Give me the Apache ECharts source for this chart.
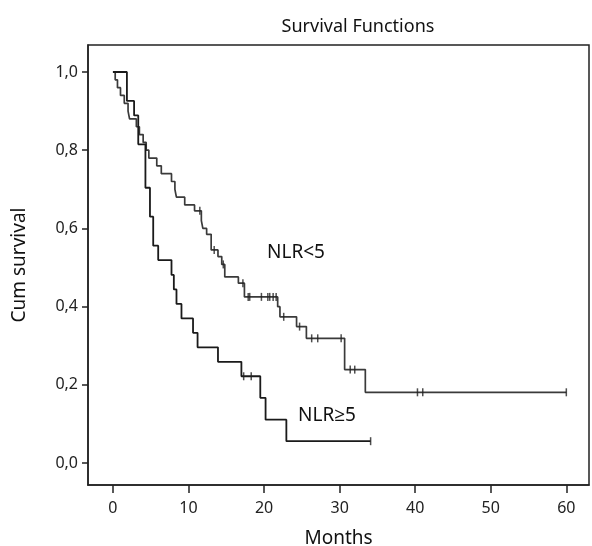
<!DOCTYPE html>
<html>
<head>
<meta charset="utf-8">
<script src="https://cdn.jsdelivr.net/npm/echarts@6/dist/echarts.min.js"></script>
<style>
html,body{margin:0;padding:0;background:#fff;}
#chart{width:592px;height:546px;}
</style>
</head>
<body>
<div id="chart"></div>
<script>
// NLR<5 : event steps [months, cumulative survival]
const nlrLowSteps = [
  [0,1.0],[0.3,0.98],[0.6,0.96],[1.0,0.94],[1.5,0.92],[2.0,0.90],[2.2,0.88],
  [3.1,0.86],[3.5,0.84],[4.0,0.82],[4.4,0.80],[4.75,0.78],[5.8,0.76],[6.4,0.74],
  [7.75,0.72],[8.2,0.70],[8.4,0.68],[9.5,0.66],[10.8,0.645],[11.7,0.62],[11.9,0.60],
  [12.4,0.585],[13.0,0.545],[13.9,0.528],[14.4,0.508],[14.8,0.476],[16.6,0.46],
  [17.4,0.425],[21.8,0.40],[22.1,0.374],[24.3,0.349],[25.6,0.319],[30.66,0.239],
  [33.4,0.181],[60,0.181]
];
// NLR<5 censored observations [months, survival]
const nlrLowCensored = [
  [11.5,0.645],[13.4,0.545],[14.6,0.508],[17.2,0.46],
  [17.9,0.425],[18.1,0.425],[19.65,0.425],[20.5,0.425],[20.75,0.425],[21.2,0.425],[21.6,0.425],
  [22.6,0.374],[24.7,0.349],[26.3,0.319],[27.1,0.319],[30.2,0.319],
  [31.4,0.239],[32.0,0.239],[40.3,0.181],[41.0,0.181],[60,0.181]
];
// NLR>=5 : event steps
const nlrHighSteps = [
  [0,1.0],[1.85,0.926],[2.8,0.889],[3.35,0.815],[4.3,0.704],[4.9,0.630],[5.33,0.556],
  [5.99,0.519],[7.75,0.481],[8.06,0.444],[8.41,0.407],[9.07,0.370],[10.6,0.333],
  [11.2,0.296],[13.9,0.259],[17.0,0.222],[19.5,0.167],[20.2,0.111],[22.95,0.056],[34.1,0.056]
];
const nlrHighCensored = [[17.3,0.222],[18.3,0.222],[34.1,0.056]];

const xTicks = [0,10,20,30,40,50,60];
const yTicks = [0,0.2,0.4,0.6,0.8,1.0];

const FONT = '"Noto Sans", "Open Sans", sans-serif';
const chart = echarts.init(document.getElementById('chart'), null, {renderer:'canvas'});

const censorSym = {type:'scatter', symbol:'rect', symbolSize:[1.5,8], itemStyle:{color:'#222'}, z:5, silent:true};

chart.setOption({
  animation:false,
  backgroundColor:'#fff',
  title:{
    text:'Survival Functions', left:353, top:13, textAlign:'center',
    textStyle:{fontFamily:FONT, fontSize:18, fontWeight:'normal', color:'#111'}
  },
  grid:{left:88, right:3, top:45, bottom:61, show:true, borderColor:'#222', borderWidth:1.5,
        backgroundColor:'transparent', containLabel:false, outerBoundsMode:'none'},
  xAxis:{
    type:'value', min:-3.3, max:63,
    name:'Months', nameLocation:'middle', nameGap:44,
    nameTextStyle:{fontFamily:FONT, fontSize:19, color:'#111'},
    axisLine:{onZero:false, lineStyle:{color:'#222', width:1.5}},
    axisTick:{show:true, length:8, lineStyle:{color:'#222', width:1.5}, customValues:xTicks},
    axisLabel:{fontFamily:FONT, fontSize:16, color:'#222', margin:15, customValues:xTicks},
    splitLine:{show:false}
  },
  yAxis:{
    type:'value', min:-0.056, max:1.069,
    name:'Cum survival', nameLocation:'middle', nameGap:59, nameRotate:90,
    nameTextStyle:{fontFamily:FONT, fontSize:19, color:'#111'},
    axisLine:{show:true, onZero:false, lineStyle:{color:'#222', width:1.5}},
    axisTick:{show:true, length:6, lineStyle:{color:'#222', width:1.5}, customValues:yTicks},
    axisLabel:{fontFamily:FONT, fontSize:16, color:'#222', margin:10, customValues:yTicks,
      formatter:v=>v.toFixed(1).replace('.',',')},
    splitLine:{show:false}
  },
  series:[
    {type:'line', name:'NLR<5', data:nlrLowSteps, step:'end', showSymbol:false,
     lineStyle:{color:'#3a3a3a', width:1.7}, silent:true},
    Object.assign({name:'NLR<5 censored', data:nlrLowCensored}, censorSym),
    {type:'line', name:'NLR≥5', data:nlrHighSteps, step:'end', showSymbol:false,
     lineStyle:{color:'#1a1a1a', width:1.8}, silent:true},
    Object.assign({name:'NLR≥5 censored', data:nlrHighCensored}, censorSym)
  ],
  graphic:[
    {type:'text', left:267, top:243, style:{text:'NLR<5', font:'19px '+FONT, fill:'#111'}},
    {type:'text', left:298, top:406, style:{text:'NLR≥5', font:'19px '+FONT, fill:'#111'}}
  ]
});
</script>
</body>
</html>
